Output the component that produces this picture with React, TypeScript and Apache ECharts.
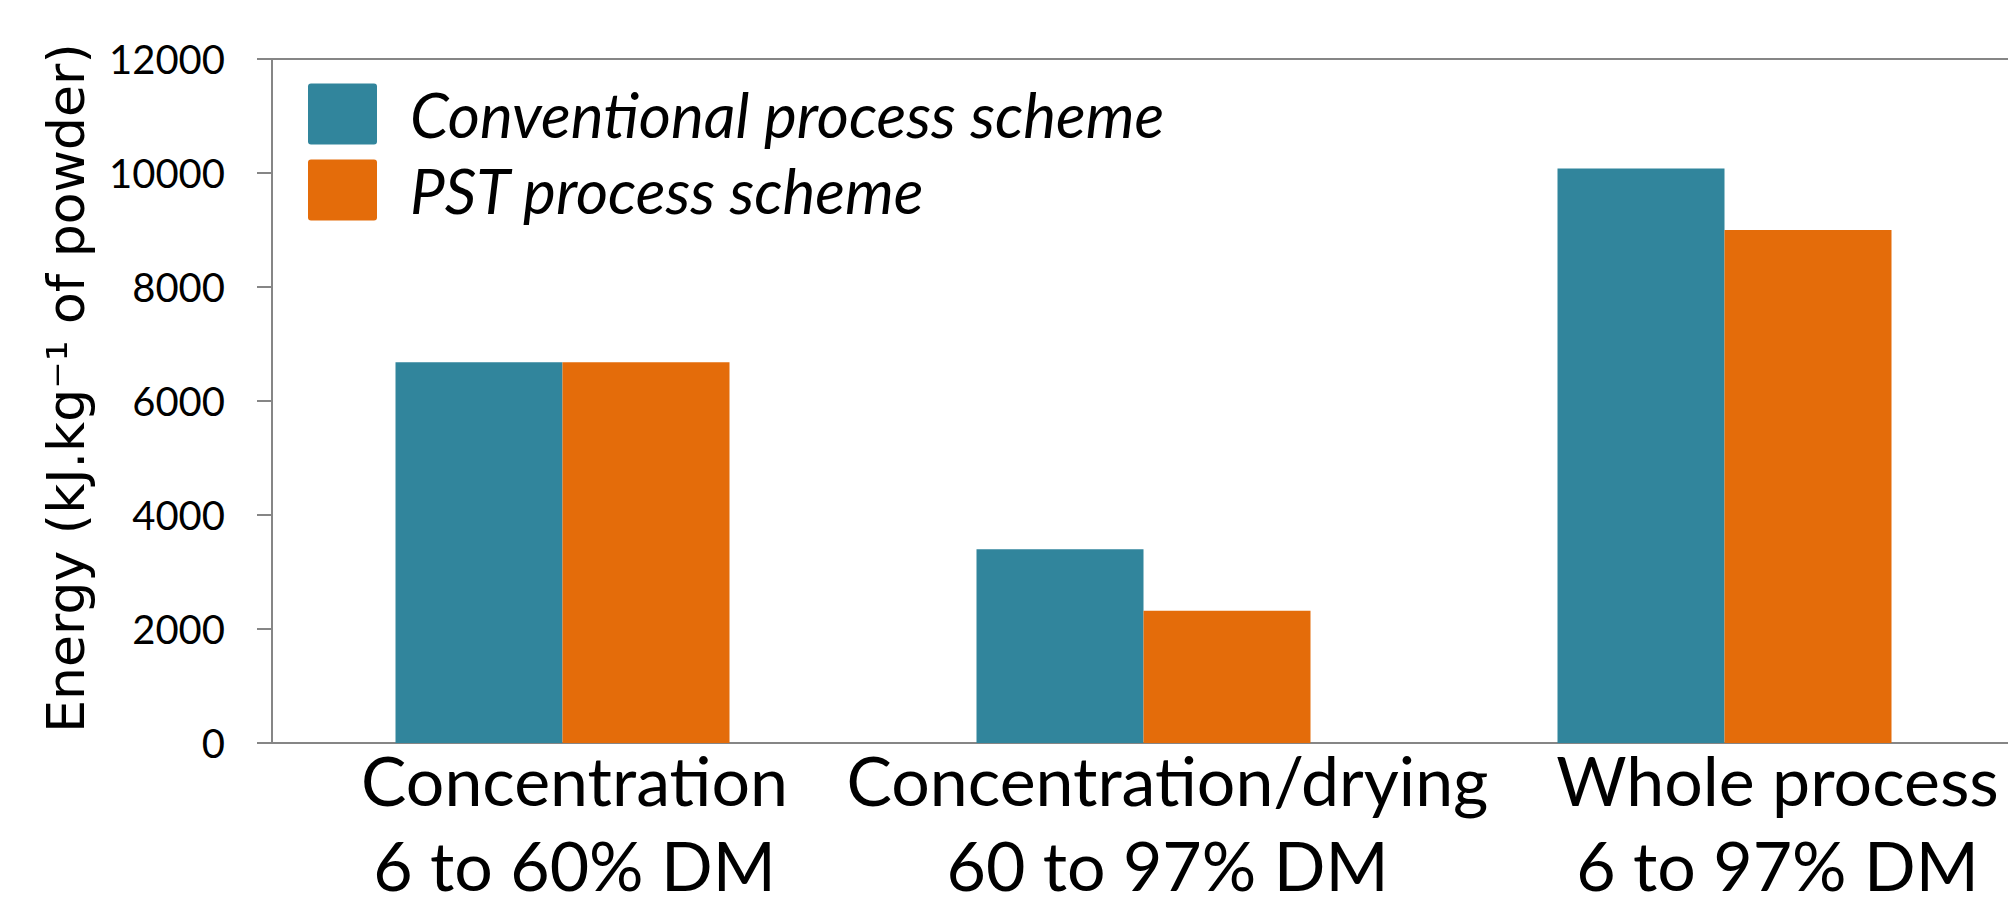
import React, { useEffect, useRef } from "react";
import * as echarts from "echarts";

const categories = [
  "Concentration\n6 to 60% DM",
  "Concentration/drying\n60 to 97% DM",
  "Whole process\n6 to 97% DM",
];
const conventional = [6680, 3400, 10080];
const pst = [6680, 2320, 9000];
const seriesNames = ["Conventional process scheme", "PST process scheme"];
const yTitle = "Energy (kJ.kg\u207B\u00B9 of powder)";

export default function App() {
  const ref = useRef<HTMLDivElement>(null);
  useEffect(() => {
    document.body.style.margin = "0";
    const chart = echarts.init(ref.current!, null, { renderer: "svg" });
    const axisGray = "#868686";
    const icon =
      "path://M3,0 H66 Q69,0 69,3 V58 Q69,61 66,61 H3 Q0,61 0,58 V3 Q0,0 3,0 Z";
    // label shift to the right (px) as in the original layout
    const labelShiftPad = [24, 48, 106];
    const rich: Record<string, any> = {};
    labelShiftPad.forEach((p, i) => {
      rich["a" + i] = {
        fontFamily: "Lato",
        fontSize: 68,
        lineHeight: 114,
        color: "#000",
        padding: [0, 0, 0, p],
      };
      rich["b" + i] = {
        fontFamily: "Lato",
        fontSize: 68,
        lineHeight: 56,
        color: "#000",
        padding: [0, 0, 0, p],
      };
    });
    chart.setOption({
      animation: false,
      backgroundColor: "#ffffff",
      grid: {
        left: 272,
        top: 59,
        bottom: 156,
        right: -7,
        show: true,
        borderColor: axisGray,
        borderWidth: 2,
        containLabel: false,
        outerBoundsMode: "none",
      },
      legend: {
        orient: "vertical",
        left: 308,
        top: 83,
        padding: 0,
        itemWidth: 69,
        itemHeight: 61,
        itemGap: 14,
        icon,
        textStyle: {
          fontFamily: "Lato",
          fontStyle: "italic",
          fontSize: 62,
          color: "#000",
          padding: [0, 0, 0, 28],
        },
        data: seriesNames,
      },
      xAxis: {
        type: "category",
        data: categories,
        axisLine: { lineStyle: { color: axisGray, width: 2 } },
        axisTick: { show: false },
        axisLabel: {
          fontFamily: "Lato",
          fontSize: 68,
          color: "#000",
          margin: -21,
          interval: 0,
          formatter: (v: string, idx: number) => {
            const [l1, l2] = v.split("\n");
            return `{a${idx}|${l1}}\n{b${idx}|${l2}}`;
          },
          rich,
        },
      },
      yAxis: {
        type: "value",
        min: 0,
        max: 12000,
        interval: 2000,
        name: yTitle,
        nameLocation: "middle",
        nameGap: 180,
        nameTextStyle: {
          fontFamily: "DejaVu Sans",
          fontSize: 52,
          color: "#000",
          padding: [0, 0, 0, 26],
        },
        axisLine: { show: true, lineStyle: { color: axisGray, width: 2 } },
        axisTick: { show: true, length: 15, lineStyle: { color: axisGray, width: 2 } },
        splitLine: { show: false },
        axisLabel: {
          fontFamily: "Lato",
          fontSize: 40,
          color: "#000",
          margin: 47,
          formatter: (v: number) => String(v),
        },
      },
      series: [
        {
          name: seriesNames[0],
          type: "bar",
          data: conventional,
          barWidth: 167,
          barGap: "0%",
          itemStyle: { color: "#31859C" },
        },
        {
          name: seriesNames[1],
          type: "bar",
          data: pst,
          barWidth: 167,
          barGap: "0%",
          itemStyle: { color: "#E46C0A" },
        },
      ],
    });
    return () => chart.dispose();
  }, []);
  return <div ref={ref} style={{ width: 2008, height: 899 }} />;
}
